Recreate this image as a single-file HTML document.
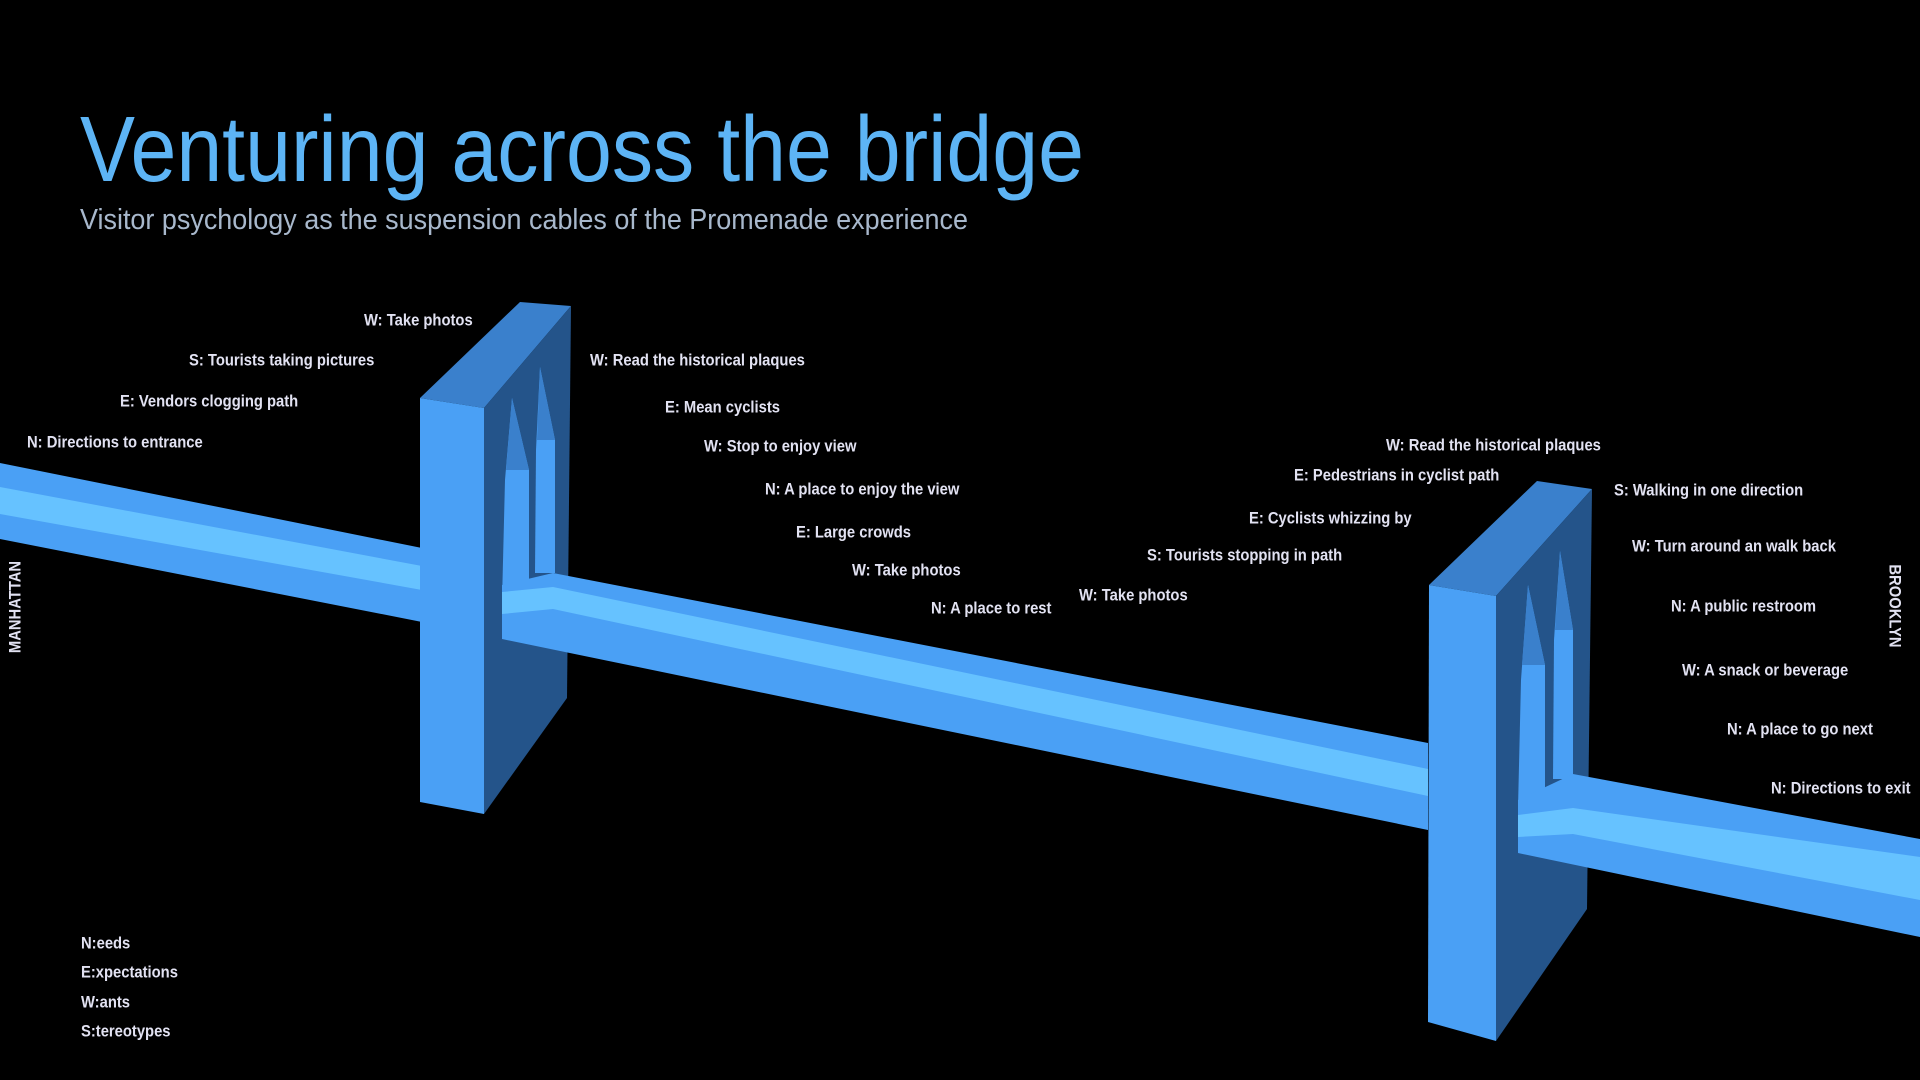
<!DOCTYPE html>
<html><head><meta charset="utf-8"><style>
html,body{margin:0;padding:0;background:#000;width:1920px;height:1080px;overflow:hidden}
svg{display:block}
.l{font-family:"Liberation Sans",sans-serif;font-weight:bold;font-size:17px;fill:#e2e2f2;dominant-baseline:middle}
</style></head><body>
<svg width="1920" height="1080" viewBox="0 0 1920 1080" xmlns="http://www.w3.org/2000/svg">
<rect width="1920" height="1080" fill="#000"/>
<text x="80" y="181" font-family="Liberation Sans, sans-serif" font-size="93" fill="#5db4f5" textLength="1004" lengthAdjust="spacingAndGlyphs">Venturing across the bridge</text>
<text x="80" y="229" font-family="Liberation Sans, sans-serif" font-size="29" fill="#a8b8cc" textLength="888" lengthAdjust="spacingAndGlyphs">Visitor psychology as the suspension cables of the Promenade experience</text>

<!-- left deck -->
<polygon points="0,463 422,548 422,622 0,539" fill="#4aa0f5"/>
<polygon points="0,487 422,566 422,590 0,514" fill="#66c2ff"/>

<!-- tower 1 -->
<polygon points="420,398 520,302 571,306 484,408" fill="#3a80cc"/>
<polygon points="484,408 571,306 567,698 484,814" fill="#24548a"/>
<polygon points="502,602 505,480 512,398 529,470 529,602" fill="#4aa0f5"/>
<polygon points="512,398 529,470 506,470" fill="#3a80cc"/>
<polygon points="535,573 536,450 540,367 555,440 555,573" fill="#4aa0f5"/>
<polygon points="540,367 555,440 537,440" fill="#3a80cc"/>
<!-- middle deck -->
<polygon points="502,585 553,573 1428,743 1428,830 502,639" fill="#4aa0f5"/>
<polygon points="502,592 553,587 1428,769 1428,796 553,609 502,614" fill="#66c2ff"/>
<polygon points="420,398 484,408 484,814 420,802" fill="#4aa0f5"/>

<!-- tower 2 -->
<polygon points="1429,585 1537,481 1592,489 1496,596" fill="#3a80cc"/>
<polygon points="1496,596 1592,489 1587,909 1496,1041" fill="#24548a"/>
<polygon points="1518,808 1521,680 1528,585 1545,665 1545,808" fill="#4aa0f5"/>
<polygon points="1528,585 1545,665 1522,665" fill="#3a80cc"/>
<polygon points="1553,779 1554,640 1560,551 1573,630 1573,779" fill="#4aa0f5"/>
<polygon points="1560,551 1573,630 1555,630" fill="#3a80cc"/>
<!-- right deck -->
<polygon points="1518,800 1573,774 1920,839 1920,937 1518,853" fill="#4aa0f5"/>
<polygon points="1518,815 1573,808 1920,857 1920,900 1573,834 1518,837" fill="#66c2ff"/>
<polygon points="1429,585 1496,596 1496,1041 1428,1022" fill="#4aa0f5"/>

<g class="l">
<text class="l" transform="translate(364,321) scale(0.87,1)">W: Take photos</text>
<text class="l" transform="translate(189,361) scale(0.87,1)">S: Tourists taking pictures</text>
<text class="l" transform="translate(120,402) scale(0.87,1)">E: Vendors clogging path</text>
<text class="l" transform="translate(27,443) scale(0.87,1)">N: Directions to entrance</text>
<text class="l" transform="translate(590,361) scale(0.87,1)">W: Read the historical plaques</text>
<text class="l" transform="translate(665,408) scale(0.87,1)">E: Mean cyclists</text>
<text class="l" transform="translate(704,447) scale(0.87,1)">W: Stop to enjoy view</text>
<text class="l" transform="translate(765,490) scale(0.87,1)">N: A place to enjoy the view</text>
<text class="l" transform="translate(796,533) scale(0.87,1)">E: Large crowds</text>
<text class="l" transform="translate(852,571) scale(0.87,1)">W: Take photos</text>
<text class="l" transform="translate(931,609) scale(0.87,1)">N: A place to rest</text>
<text class="l" transform="translate(1079,596) scale(0.87,1)">W: Take photos</text>
<text class="l" transform="translate(1147,556) scale(0.87,1)">S: Tourists stopping in path</text>
<text class="l" transform="translate(1249,519) scale(0.87,1)">E: Cyclists whizzing by</text>
<text class="l" transform="translate(1294,476) scale(0.87,1)">E: Pedestrians in cyclist path</text>
<text class="l" transform="translate(1386,446) scale(0.87,1)">W: Read the historical plaques</text>
<text class="l" transform="translate(1614,491) scale(0.87,1)">S: Walking in one direction</text>
<text class="l" transform="translate(1632,547) scale(0.87,1)">W: Turn around an walk back</text>
<text class="l" transform="translate(1671,607) scale(0.87,1)">N: A public restroom</text>
<text class="l" transform="translate(1682,671) scale(0.87,1)">W: A snack or beverage</text>
<text class="l" transform="translate(1727,730) scale(0.87,1)">N: A place to go next</text>
<text class="l" transform="translate(1771,789) scale(0.87,1)">N: Directions to exit</text>
<text class="l" transform="translate(81,944) scale(0.87,1)">N:eeds</text>
<text class="l" transform="translate(81,973) scale(0.87,1)">E:xpectations</text>
<text class="l" transform="translate(81,1003) scale(0.87,1)">W:ants</text>
<text class="l" transform="translate(81,1032) scale(0.87,1)">S:tereotypes</text>
<text class="l" text-anchor="middle" transform="translate(16,607) rotate(-90) scale(0.87,1)">MANHATTAN</text>
<text class="l" text-anchor="middle" transform="translate(1894,606) rotate(90) scale(0.87,1)">BROOKLYN</text>
</g>
</svg>
</body></html>
